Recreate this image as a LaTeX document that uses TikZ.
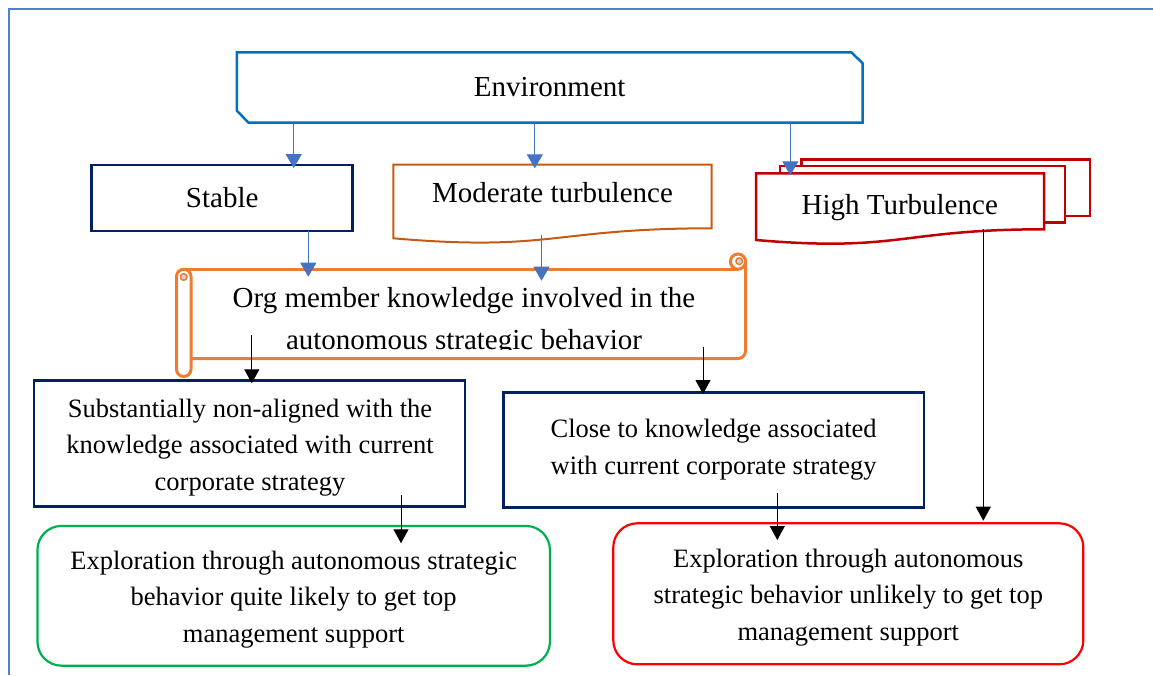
\documentclass[tikz,border=0pt]{standalone}
\usepackage{fontspec}
\setmainfont{Liberation Serif}
\usetikzlibrary{arrows.meta}
\definecolor{envblue}{HTML}{0070C0}
\definecolor{arrblue}{HTML}{4472C4}
\definecolor{framblue}{HTML}{4F7FD0}
\definecolor{navy}{HTML}{002060}
\definecolor{modorange}{HTML}{C55A11}
\definecolor{scrollorange}{HTML}{ED7D31}
\definecolor{darkred}{HTML}{C00000}
\definecolor{okgreen}{HTML}{00B050}
\definecolor{brightred}{HTML}{FF0000}
\begin{document}
\begin{tikzpicture}[x=1pt,y=-1pt,
  bigtext/.style={font=\fontsize{29}{41.6}\selectfont, inner sep=0pt, outer sep=0pt, align=center},
  smalltext/.style={font=\fontsize{26.5}{36.5}\selectfont, align=center, inner sep=0pt, outer sep=0pt},
  navybox/.style={draw=navy, line width=2.5pt, fill=white, inner sep=0pt, outer sep=0pt},
  roundbox/.style={rounded corners=24pt, line width=2.2pt, fill=white, inner sep=0pt, outer sep=0pt},
  scr/.style={draw=scrollorange, line width=3pt},
  barr/.style={draw=arrblue, line width=1.2pt, -{Triangle[width=16pt,length=14pt]}, arrblue},
  karr/.style={draw=black, line width=1pt, -{Triangle[width=15pt,length=14pt]}},
]
\useasboundingbox (0,0) rectangle (1153,675);
\fill[white] (0,0) rectangle (1153,675);

% outer frame
\draw[framblue, line width=2pt] (8.5,675) -- (8.5,8.5) -- (1153,8.5);

% Environment (snipped corners)
\draw[envblue, line width=2.5pt, fill=white] (236.8,52.3) -- (851.3,52.3) -- (862.7,63.3) -- (862.7,122.7) -- (248.6,122.7) -- (236.8,110.7) -- cycle;
\node[bigtext] (env) at (549.7,87.5) {Environment};

% Stable
\node[navybox, font=\fontsize{29}{41.6}\selectfont, minimum width=261pt, minimum height=65.7pt] (stable) at (222.2,197.9) {Stable};

% Moderate turbulence (document shape)
\draw[modorange, line width=2pt, fill=white] (393.3,164.7) -- (711.7,164.7) -- (711.7,228.3) .. controls (552.5,228.3) and (552.5,252) .. (393.3,238.3) -- cycle;
\node[bigtext] (mod) at (552.5,192.4) {Moderate turbulence};
\coordinate (modtop) at (552.5,164.7);

% High Turbulence (multi-document)
\draw[darkred, line width=2.5pt, line join=miter] (801.7,166) -- (801.7,159.3) -- (1090,159.3) -- (1090,216) -- (1065,216);
\draw[darkred, line width=2.5pt, line join=miter] (780,173.3) -- (780,166) -- (1065,166) -- (1065,222.7) -- (1044,222.7);
\draw[darkred, line width=2.5pt, fill=white] (756,173.3) -- (1044,173.3) -- (1044,229.3) .. controls (900,229.3) and (900,252.4) .. (756,240) -- cycle;
\node[bigtext] (high) at (899.7,207.3) {High Turbulence};
\coordinate (hightop) at (900,173.3);

% Scroll
\fill[white] (191,269.3) rectangle (745.5,358.5);
\draw[scr] (183.7,269.3) -- (738,269.3);
\draw[scr, rounded corners=7.5pt] (745.5,261.6) -- (745.5,358.5) -- (191,358.5);
\draw[scr, fill=white] (738,261.6) circle (7.6);
\filldraw[fill=gray!35, draw=scrollorange, line width=1.5pt] (739.2,261.2) circle (3.3);
\draw[scr, fill=white, rounded corners=7.2pt] (176.5,269.3) rectangle (191,376.5);
\filldraw[fill=gray!35, draw=scrollorange, line width=1.5pt] (183.7,277) circle (3.3);
\coordinate (scrolltop) at (460,269.3);
\begin{scope}
  \clip (192,262) rectangle (744,349.5);
  \node[bigtext] (org) at (464,321.5) {Org member knowledge involved in the\\autonomous strategic behavior};
\end{scope}

% second-level boxes
\node[navybox, minimum width=431pt, minimum height=126pt] (sub) at (249.5,443.7) {};
\node[smalltext] (subtxt) at (250,447.5)
  {Substantially non-aligned with the\\knowledge associated with current\\corporate strategy};
\node[navybox, minimum width=420.7pt, minimum height=115.4pt] (close) at (713.6,450) {};
\node[smalltext] (closetxt) at (713.6,449.5)
  {Close to knowledge associated\\with current corporate strategy};

% outcome boxes
\node[roundbox, draw=okgreen, minimum width=512.5pt, minimum height=139.7pt] (green) at (293.7,595.8) {};
\node[smalltext] (greentxt) at (293.7,599.5)
  {Exploration through autonomous strategic\\behavior quite likely to get top\\management support};
\node[roundbox, draw=brightred, minimum width=470pt, minimum height=141pt] (red) at (848.3,593.8) {};
\node[smalltext] (redtxt) at (848.3,597.5)
  {Exploration through autonomous\\strategic behavior unlikely to get top\\management support};

% blue arrows
\coordinate (e1) at (293.7,122.7);
\coordinate (e2) at (534.8,122.7);
\coordinate (e3) at (790.3,122.7);
\draw[barr, shorten >=-3pt] (e1) -- (e1 |- stable.north);
\draw[barr, shorten >=-3.6pt] (e2) -- (e2 |- modtop);
\draw[barr, shorten >=-2pt] (e3) -- (e3 |- hightop);
\coordinate (s1) at (308.3,230.7);
\coordinate (m1) at (541.5,235);
\draw[barr, shorten >=-7.4pt] (s1) -- (s1 |- scrolltop);
\draw[barr, shorten >=-11.4pt] (m1) -- (m1 |- scrolltop);

% black arrows
\coordinate (k1) at (251.8,335);
\coordinate (k2) at (703,346.7);
\coordinate (k3) at (401,495);
\coordinate (k4) at (777.3,493.3);
\coordinate (k5) at (983.3,229.3);
\draw[karr, shorten >=-2.6pt] (k1) -- (k1 |- sub.north);
\draw[karr, shorten >=-1.7pt] (k2) -- (k2 |- close.north);
\draw[karr, shorten >=-17.3pt] (k3) -- (k3 |- green.north);
\draw[karr, shorten >=-16.7pt] (k4) -- (k4 |- red.north);
\draw[karr, shorten >=2.6pt] (k5) -- (k5 |- red.north);
\end{tikzpicture}
\end{document}
